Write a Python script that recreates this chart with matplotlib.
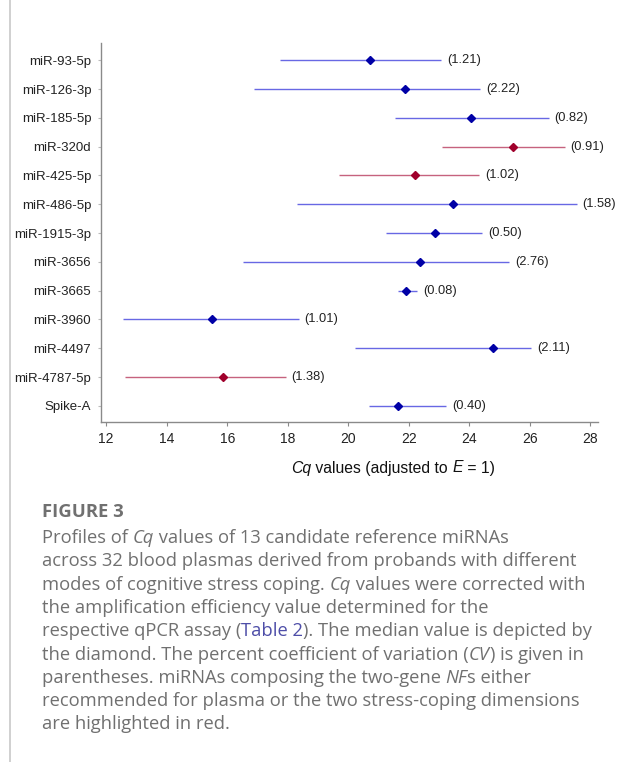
import matplotlib

matplotlib.use("Agg")
import matplotlib.pyplot as plt
from matplotlib.lines import Line2D

# data
mirnas = [
    "miR-93-5p", "miR-126-3p", "miR-185-5p", "miR-320d", "miR-425-5p",
    "miR-486-5p", "miR-1915-3p", "miR-3656", "miR-3665", "miR-3960",
    "miR-4497", "miR-4787-5p", "Spike-A",
]
cq_min = [17.75, 16.89, 21.53, 23.11, 19.69, 18.30, 21.26, 16.51, 21.63, 12.57, 20.23, 12.62, 20.67]
cq_median = [20.73, 21.88, 24.06, 25.44, 22.21, 23.46, 22.88, 22.38, 21.90, 15.51, 24.78, 15.85, 21.64]
cq_max = [23.06, 24.36, 26.62, 27.15, 24.33, 27.54, 24.43, 25.32, 22.27, 18.36, 26.04, 17.93, 23.24]
cv_labels = ["(1.21)", "(2.22)", "(0.82)", "(0.91)", "(1.02)", "(1.58)", "(0.50)",
             "(2.76)", "(0.08)", "(1.01)", "(2.11)", "(1.38)", "(0.40)"]
highlighted = ["miR-320d", "miR-425-5p", "miR-4787-5p"]

BLUE_LINE, BLUE_DOT = "#6868e4", "#0000a6"
RED_LINE, RED_DOT = "#c6627e", "#a0002c"
CAP_GRAY = "#707070"

W, H = 617, 762
fig = plt.figure(figsize=(W / 100, H / 100), dpi=100)
fig.patch.set_facecolor("white")

ax = fig.add_axes([101 / W, 1 - 422 / H, (598 - 101) / W, (422 - 43) / H])
for i, name in enumerate(mirnas):
    red = name in highlighted
    lc, mc = (RED_LINE, RED_DOT) if red else (BLUE_LINE, BLUE_DOT)
    ax.plot([cq_min[i], cq_max[i]], [i, i], color=lc, lw=1.0, solid_capstyle="butt")
    ax.plot(cq_median[i], i, marker="D", ms=4.0, color=mc, mec=mc)
    ax.annotate(cv_labels[i], (cq_max[i], i), xytext=(4.3, 0), textcoords="offset points",
                ha="left", va="center", fontsize=9.3, family="Liberation Sans", color="#222222")

ax.set_xlim(11.83, 28.25)
ax.set_ylim(len(mirnas) - 1 + 0.56, -0.6)
ax.set_xticks(range(12, 29, 2))
ax.set_yticks(range(len(mirnas)))
ax.set_yticklabels(mirnas)
for s in ["top", "right"]:
    ax.spines[s].set_visible(False)
for s in ["left", "bottom"]:
    ax.spines[s].set_color("#8a8a8a")
    ax.spines[s].set_linewidth(1.0)
ax.tick_params(axis="x", length=3, width=0.8, color="#8a8a8a", pad=4.5, labelsize=10, labelcolor="#222222")
ax.tick_params(axis="y", length=2, width=0.8, color="#bbbbbb", pad=5, labelsize=9.5, labelcolor="#222222")
for lab in ax.get_xticklabels() + ax.get_yticklabels():
    lab.set_family("Liberation Sans")

renderer = fig.canvas.get_renderer()


def draw_segments(x, y, segments, size, family, color, ha="left"):
    # one line built from (text, style, colour) pieces, placed side by side
    texts = []
    cur = x
    for text, style, col in segments:
        t = fig.text(cur / W, 1 - y / H, text, fontsize=size, family=family,
                     style=style, color=col or color, va="center", ha="left")
        cur += t.get_window_extent(renderer).width
        texts.append(t)
    if ha == "center":
        shift = (cur - x) / 2
        for t in texts:
            px, py = t.get_position()
            t.set_position((px - shift / W, py))


draw_segments(393, 468, [("Cq", "italic", None), (" values (adjusted to ", "normal", None),
                         ("E", "italic", None), (" = 1)", "normal", None)],
              11.3, "Liberation Sans", "#111111", ha="center")

# page border line
fig.add_artist(Line2D([9.5 / W, 9.5 / W], [0, 1], color="#c8c8c8", lw=1.2))

fig.text(42 / W, 1 - 512 / H, "FIGURE 3", fontsize=13.3, family="Open Sans",
         weight="bold", color=CAP_GRAY, va="center", ha="left")

caption = [
    [("Profiles of ", "normal", None), ("Cq", "italic", None), (" values of 13 candidate reference miRNAs", "normal", None)],
    [("across 32 blood plasmas derived from probands with different", "normal", None)],
    [("modes of cognitive stress coping. ", "normal", None), ("Cq", "italic", None), (" values were corrected with", "normal", None)],
    [("the amplification efficiency value determined for the", "normal", None)],
    [("respective qPCR assay (", "normal", None), ("Table 2", "normal", "#4e4ea8"), ("). The median value is depicted by", "normal", None)],
    [("the diamond. The percent coefficient of variation (", "normal", None), ("CV", "italic", None), (") is given in", "normal", None)],
    [("parentheses. miRNAs composing the two-gene ", "normal", None), ("NF", "italic", None), ("s either", "normal", None)],
    [("recommended for plasma or the two stress-coping dimensions", "normal", None)],
    [("are highlighted in red.", "normal", None)],
]
for k, line in enumerate(caption):
    draw_segments(42, 538 + k * 23.3, line, 13.2, "Open Sans", CAP_GRAY)

fig.savefig("out.png", dpi=100)
